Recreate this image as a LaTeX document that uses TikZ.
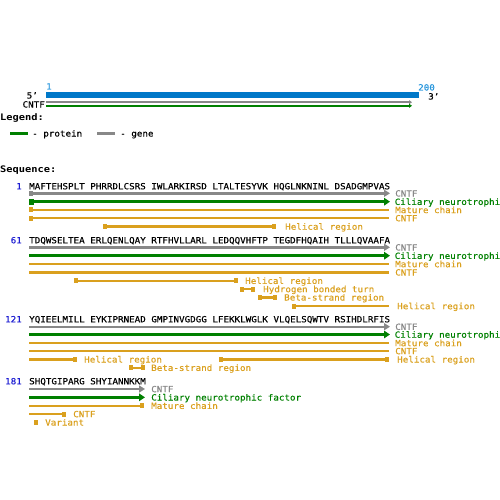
\documentclass[tikz,border=0pt]{standalone}
\usepackage{fontspec}
\usetikzlibrary{arrows.meta}
\newfontfamily\seqfont[FakeStretch=1.085,FakeBold=0.4]{DejaVu Sans Mono}
\newfontfamily\headfont[FakeStretch=1.153]{DejaVu Sans Mono Bold}
\definecolor{cgray}{RGB}{136,136,136}
\definecolor{cgreen}{RGB}{0,128,0}
\definecolor{corange}{RGB}{218,160,30}
\definecolor{cnum}{RGB}{30,30,210}
\definecolor{cbar}{RGB}{0,120,200}
\definecolor{clab}{RGB}{40,150,220}
\tikzset{
  txt/.style={font=\seqfont\fontsize{8.5}{8.5}\selectfont, inner sep=0pt, anchor=base west},
  numtxt/.style={txt, anchor=base east, text=cnum},
  headtxt/.style={font=\headfont\fontsize{9}{9}\selectfont, inner sep=0pt, anchor=base west},
  graybar/.style={draw=cgray, line width=2.4pt},
  greenbar/.style={draw=cgreen, line width=2.8pt},
  orangebar/.style={draw=corange, line width=2.4pt},
  grayarr/.style={graybar, -{Triangle[length=6pt,width=7pt]}},
  greenarr/.style={greenbar, -{Triangle[length=6pt,width=7.5pt]}},
  sq/.style={minimum width=4pt, minimum height=5pt, inner sep=0pt, draw=none},
  gsq/.style={sq, fill=cgray},
  grsq/.style={sq, fill=cgreen, minimum width=5pt, minimum height=6pt},
  osq/.style={sq, fill=corange},
}
\begin{document}
\begin{tikzpicture}[x=1pt,y=-1pt]
\useasboundingbox (0,0) rectangle (500,500);

% ---------- overview ----------
\node[txt, text=clab] (t1) at (46,89.5) {1};
\node[txt, text=clab] (t200) at (418,90.5) {200};
\fill[cbar] (46,92) rectangle (419,98);
\node[txt, anchor=base east] (t5) at (38,98.5) {5’};
\node[txt] (t3) at (428,99.5) {3’};
\node[txt, anchor=base east] (tcntf) at (45,107.5) {CNTF};
\draw[draw=cgray, line width=1.8pt, -{Triangle[length=3pt,width=4pt]}] (46,102.2) -- (412,102.2);
\draw[draw=cgreen, line width=1.8pt, -{Triangle[length=3pt,width=4pt]}] (46,105.8) -- (412,105.8);

% ---------- legend ----------
\node[headtxt] (leg) at (0,121) {Legend:};
\draw[greenbar] (10,133.3) -- (28,133.3);
\node[txt] (lp) at (32,136.5) {- protein};
\draw[graybar] (97,133.3) -- (115,133.3);
\node[txt] (lg) at (120,136.5) {- gene};

\node[headtxt] (seqh) at (0,172.3) {Sequence:};

% ---------- line 1 ----------
\node[numtxt] (n1) at (22,189.3) {1};
\node[txt] (s1) at (29,189.3) {MAFTEHSPLT PHRRDLCSRS IWLARKIRSD LTALTESYVK HQGLNKNINL DSADGMPVAS};
\draw[grayarr] (29,193.3) -- (390,193.3);
\node[gsq] at (31,193.3) {};
\node[txt, text=cgray] (l1a) at (395,196.5) {CNTF};
\draw[greenarr] (29,201.7) -- (390,201.7);
\node[grsq] at (31.5,201.7) {};
\node[txt, text=cgreen] (l1b) at (394.5,204.9) {Ciliary neurotrophi};
\draw[orangebar] (29,209.9) -- (389,209.9);
\node[osq] at (31,209.9) {};
\node[txt, text=corange] (l1c) at (395,213.1) {Mature chain};
\draw[orangebar] (29,218.1) -- (389,218.1);
\node[osq] at (31,218.1) {};
\node[txt, text=corange] (l1d) at (395,221.3) {CNTF};
\draw[orangebar] (103,226.5) -- (276,226.5);
\node[osq] at (105,226.5) {};
\node[osq] at (274,226.5) {};
\node[txt, text=corange] (l1e) at (285,229.7) {Helical region};

% ---------- line 2 ----------
\node[numtxt] (n61) at (22,243.3) {61};
\node[txt] (s2) at (29,243.3) {TDQWSELTEA ERLQENLQAY RTFHVLLARL LEDQQVHFTP TEGDFHQAIH TLLLQVAAFA};
\draw[grayarr] (29,247.3) -- (390,247.3);
\node[txt, text=cgray] (l2a) at (395,250.5) {CNTF};
\draw[greenarr] (29,255.7) -- (390,255.7);
\node[txt, text=cgreen] (l2b) at (394.5,258.9) {Ciliary neurotrophi};
\draw[orangebar] (29,264) -- (389,264);
\node[txt, text=corange] (l2c) at (395,267.2) {Mature chain};
\draw[orangebar] (29,272.3) -- (389,272.3);
\node[txt, text=corange] (l2d) at (395,275.5) {CNTF};
\draw[orangebar] (74,280.7) -- (238,280.7);
\node[osq] at (76,280.7) {};
\node[osq] at (236,280.7) {};
\node[txt, text=corange] (l2e) at (245,283.9) {Helical region};
\draw[orangebar] (240,289) -- (255,289);
\node[osq] at (242,289) {};
\node[osq] at (253,289) {};
\node[txt, text=corange] (l2f) at (263,292.2) {Hydrogen bonded turn};
\draw[orangebar] (258,297.3) -- (277,297.3);
\node[osq] at (260,297.3) {};
\node[osq] at (275,297.3) {};
\node[txt, text=corange] (l2g) at (284,300.5) {Beta-strand region};
\draw[orangebar] (292,306) -- (389,306);
\node[osq] at (294,306) {};
\node[txt, text=corange] (l2h) at (397,309.2) {Helical region};

% ---------- line 3 ----------
\node[numtxt] (n121) at (22,322.3) {121};
\node[txt] (s3) at (29,322.3) {YQIEELMILL EYKIPRNEAD GMPINVGDGG LFEKKLWGLK VLQELSQWTV RSIHDLRFIS};
\draw[grayarr] (29,326.7) -- (390,326.7);
\node[txt, text=cgray] (l3a) at (395,329.9) {CNTF};
\draw[greenarr] (29,334.5) -- (390,334.5);
\node[txt, text=cgreen] (l3b) at (394.5,337.7) {Ciliary neurotrophi};
\draw[orangebar] (29,343) -- (389,343);
\node[txt, text=corange] (l3c) at (395,346.2) {Mature chain};
\draw[orangebar] (29,351) -- (389,351);
\node[txt, text=corange] (l3d) at (395,354.2) {CNTF};
\draw[orangebar] (29,359.3) -- (77,359.3);
\node[osq] at (75,359.3) {};
\node[txt, text=corange] (l3e) at (84,362.5) {Helical region};
\draw[orangebar] (219,359.3) -- (389,359.3);
\node[osq] at (221,359.3) {};
\node[osq] at (387,359.3) {};
\node[txt, text=corange] (l3f) at (397,362.5) {Helical region};
\draw[orangebar] (129,367.7) -- (145,367.7);
\node[osq] at (131,367.7) {};
\node[osq] at (143,367.7) {};
\node[txt, text=corange] (l3g) at (151,370.9) {Beta-strand region};

% ---------- line 4 ----------
\node[numtxt] (n181) at (22,384.3) {181};
\node[txt] (s4) at (29,384.3) {SHQTGIPARG SHYIANNKKM};
\draw[grayarr] (29,389) -- (145,389);
\node[txt, text=cgray] (l4a) at (151,392.2) {CNTF};
\draw[greenarr] (29,397.3) -- (145,397.3);
\node[txt, text=cgreen] (l4b) at (151,400.5) {Ciliary neurotrophic factor};
\draw[orangebar] (29,405.7) -- (144,405.7);
\node[osq] at (142,405.7) {};
\node[txt, text=corange] (l4c) at (151,408.9) {Mature chain};
\draw[orangebar] (29,414) -- (66,414);
\node[osq] at (64,414) {};
\node[txt, text=corange] (l4d) at (73,417.2) {CNTF};
\node[osq] at (36,422.3) {};
\node[txt, text=corange] (l4e) at (45,425.5) {Variant};
\end{tikzpicture}
\end{document}
